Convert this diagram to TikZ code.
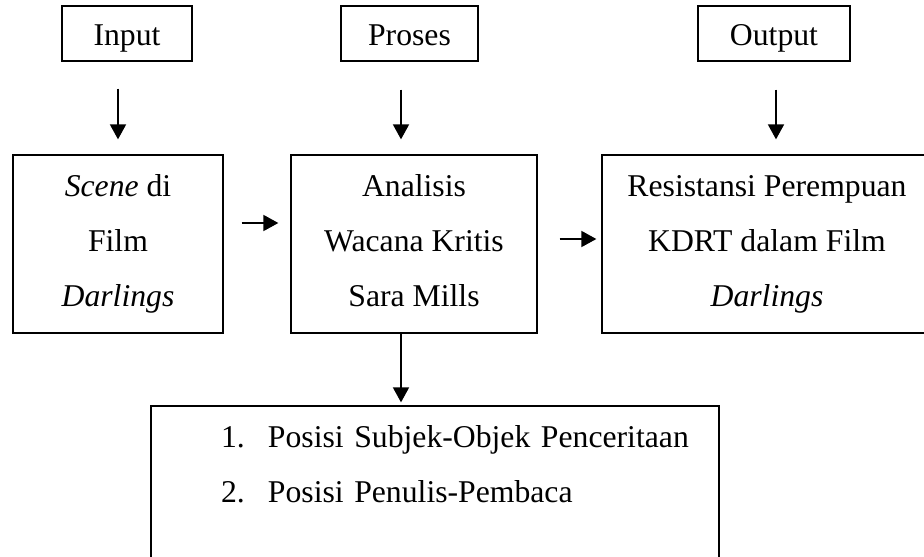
\documentclass[tikz,border=0pt]{standalone}
\usepackage{fontspec}
\setmainfont{Liberation Serif}
\usetikzlibrary{arrows.meta}

\begin{document}
\begin{tikzpicture}[x=1pt, y=-1pt,
    every node/.style = {font=\fontsize{31.7}{55}\selectfont},
    box/.style   = {draw, line width=1.3pt, align=center},
    head/.style  = {box, minimum height=55pt, text height=23pt, text depth=0pt},
    tall/.style  = {box, minimum height=178pt},
    arrow/.style = {line width=1.8pt, -{Triangle[width=16pt, length=15pt]}}]
  \useasboundingbox (0,0) rectangle (924,557);
  \clip (0,0) rectangle (924,557);
  % kerangka atas
  \node[head, minimum width=130pt] (input)  at (127,33.5)   {Input};
  \node[head, minimum width=137pt] (proses) at (409.5,33.5) {Proses};
  \node[head, minimum width=152pt] (output) at (774,33.5)   {Output};
  % isi
  \node[tall, minimum width=210pt] (scene)      at (118,244) {\textit{Scene} di\\Film\\\textit{Darlings}};
  \node[tall, minimum width=246pt] (analisis)   at (414,244) {Analisis\\Wacana Kritis\\Sara Mills\vphantom{g}};
  \node[tall, minimum width=330pt] (resistansi) at (767,244) {Resistansi Perempuan\\KDRT dalam Film\\\textit{Darlings}};
  \node[box, align=left, text width=568pt, inner xsep=0pt, inner ysep=0pt, minimum height=170pt]
    (posisi) at (435,491)
    {\strut\hspace*{70pt}\makebox[47pt][l]{1.}\mbox{Posisi Subjek-Objek Penceritaan}\\
     \strut\hspace*{70pt}\makebox[47pt][l]{2.}\mbox{Posisi Penulis-Pembaca}\\
     \strut};
  % panah
  \draw[arrow, shorten <=27pt, shorten >=15pt] (scene.north |- input.south) -- (scene.north);
  \draw[arrow, shorten <=28pt, shorten >=15pt] ([xshift=-13pt]analisis.north |- proses.south) -- ([xshift=-13pt]analisis.north);
  \draw[arrow, shorten <=28pt, shorten >=15pt] ([xshift=2pt]output.south) -- ([xshift=2pt]output.south |- resistansi.north);
  \draw[arrow, shorten <=18pt, shorten >=12pt] ([yshift=21pt]scene.east) -- ([yshift=21pt]analisis.west);
  \draw[arrow, shorten <=22pt, shorten >=5pt] ([yshift=5pt]analisis.east) -- ([yshift=5pt]resistansi.west);
  \draw[arrow, shorten >=3pt] ([xshift=-13pt]analisis.south) -- ([xshift=-13pt]analisis.south |- posisi.north);
\end{tikzpicture}
\end{document}
